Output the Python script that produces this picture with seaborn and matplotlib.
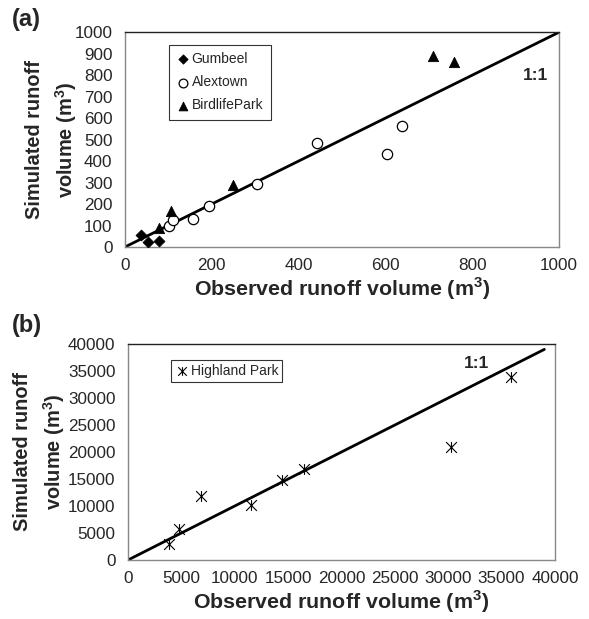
import matplotlib
matplotlib.use("Agg")
import matplotlib.pyplot as plt
import seaborn as sns
from matplotlib.path import Path

# === Panel (a) data: observed vs simulated runoff volume (m3)
gumbeel_obs = [38, 54, 79]
gumbeel_sim = [56, 24, 29]
alextown_obs = [102, 110, 156, 194, 305, 442, 603, 638]
alextown_sim = [96, 126, 128, 190, 292, 485, 432, 564]
birdlife_obs = [79, 107, 248, 709, 757]
birdlife_sim = [90, 168, 288, 888, 859]
line_a = [0, 1000]

# === Panel (b) data: Highland Park
highland_obs = [3870, 4780, 6840, 11520, 14400, 16490, 30300, 35900]
highland_sim = [2900, 5750, 11850, 10100, 14750, 16850, 21000, 33850]
line_b = [0, 39000]

sns.set_style("white")
plt.rcParams["font.family"] = ["Liberation Sans", "DejaVu Sans"]
plt.rcParams["mathtext.fontset"] = "custom"
plt.rcParams["mathtext.bf"] = "Liberation Sans:bold"
plt.rcParams["mathtext.rm"] = "Liberation Sans"

# star marker like Excel: X plus vertical bar
star = Path([(-1, -1), (1, 1), (-1, 1), (1, -1), (0, -1), (0, 1)],
            [Path.MOVETO, Path.LINETO, Path.MOVETO, Path.LINETO, Path.MOVETO, Path.LINETO])

fig = plt.figure(figsize=(5.89, 6.19), dpi=100)
ax_a = fig.add_axes([0.2122, 0.601, 0.737, 0.347])
ax_b = fig.add_axes([0.2173, 0.0953, 0.725, 0.349])


def style_axes(ax, ylabelpad):
    for side in ["left", "bottom", "right"]:
        ax.spines[side].set_color("#888888")
        ax.spines[side].set_linewidth(1)
    ax.spines["top"].set_color("#222222")
    ax.spines["top"].set_linewidth(1)
    ax.tick_params(axis="x", direction="out", length=4, width=1, color="#888888",
                   labelsize=12.3, pad=4)
    ax.tick_params(axis="y", direction="out", length=0, labelsize=12.3, pad=9)
    ax.set_xlabel("Observed runoff volume (m$^{\\mathbf{3}}$)", fontsize=15.4,
                  fontweight="bold", labelpad=2)
    ax.set_ylabel("Simulated runoff\nvolume (m$^{\\mathbf{3}}$)", fontsize=14.4,
                  fontweight="bold", labelpad=ylabelpad, linespacing=1.45)


# === Panel (a)
sns.lineplot(x=line_a, y=line_a, ax=ax_a, color="black", linewidth=2)
sns.scatterplot(x=gumbeel_obs, y=gumbeel_sim, ax=ax_a, marker="D", s=32,
                color="black", edgecolor="black", label="Gumbeel", zorder=3)
sns.scatterplot(x=alextown_obs, y=alextown_sim, ax=ax_a, marker="o", s=55,
                facecolor="white", edgecolor="black", linewidth=0.9,
                label="Alextown", zorder=3)
sns.scatterplot(x=birdlife_obs, y=birdlife_sim, ax=ax_a, marker="^", s=55,
                color="black", edgecolor="black", label="BirdlifePark", zorder=3)
ax_a.set_xlim(0, 1000)
ax_a.set_ylim(0, 1000)
ax_a.set_xticks(range(0, 1001, 200))
ax_a.set_yticks(range(0, 1001, 100))
style_axes(ax_a, -3)
ax_a.text(946, 800, "1:1", fontsize=12.5, fontweight="bold", ha="center", va="center")
leg = ax_a.legend(loc="upper left", bbox_to_anchor=(0.085, 0.975), frameon=True,
                  fancybox=False, edgecolor="black", fontsize=10,
                  handletextpad=0.1, handlelength=1.0, borderpad=0.55,
                  labelspacing=0.65, markerscale=0.85)
leg.get_frame().set_linewidth(0.8)

# === Panel (b)
sns.lineplot(x=line_b, y=line_b, ax=ax_b, color="black", linewidth=2)
sns.scatterplot(x=highland_obs, y=highland_sim, ax=ax_b, marker=star, s=60,
                color="black", edgecolor="black", linewidth=0.8,
                label="Highland Park", zorder=3)
ax_b.set_xlim(0, 40000)
ax_b.set_ylim(0, 40000)
ax_b.set_xticks(range(0, 40001, 5000))
ax_b.set_yticks(range(0, 40001, 5000))
style_axes(ax_b, 1)
ax_b.text(32600, 36400, "1:1", fontsize=12.5, fontweight="bold", ha="center", va="center")
leg = ax_b.legend(loc="upper left", bbox_to_anchor=(0.085, 0.96), frameon=True,
                  fancybox=False, edgecolor="black", fontsize=10,
                  handletextpad=0.1, handlelength=1.0, borderpad=0.3,
                  markerscale=0.8)
leg.get_frame().set_linewidth(0.8)

fig.text(0.02, 0.958, "(a)", fontsize=17, fontweight="bold")
fig.text(0.02, 0.463, "(b)", fontsize=17, fontweight="bold")

fig.savefig("out.png", dpi=100)
